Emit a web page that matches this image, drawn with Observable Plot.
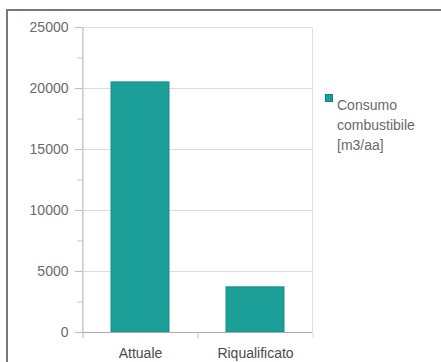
<!DOCTYPE html>
<html>
<head>
<meta charset="utf-8">
<script src="https://cdn.jsdelivr.net/npm/d3@7"></script>
<script src="https://cdn.jsdelivr.net/npm/@observablehq/plot@0.6"></script>
<style>
  html, body { margin: 0; padding: 0; background: #fff; }
  #wrap { position: relative; width: 441px; height: 362px; overflow: hidden; font-family: "Liberation Sans", Arial, sans-serif; }
  #border { position: absolute; left: 6px; top: 9px; width: 460px; height: 400px; border-left: 2px solid #777; border-top: 2px solid #777; box-sizing: border-box; }
  #chart { position: absolute; left: 0; top: 0; }
  #legend { position: absolute; left: 325px; top: 94px; color: #6a6a6a; font-size: 14px; line-height: 20px; }
  #legend .sw { position: absolute; left: 0; top: 0; width: 8px; height: 8px; background: #1b9f98; border: 1px solid #157f7a; box-sizing: border-box; }
  #legend .lbl { position: absolute; left: 12px; top: 0; white-space: nowrap; }
</style>
</head>
<body>
<div id="wrap">
  <div id="border"></div>
  <div id="chart"></div>
  <div id="legend"><div class="sw"></div><div class="lbl"></div></div>
</div>
<script>
// Data
const categories = ["Attuale", "Riqualificato"];
const values = [20500, 3700];
const legendLines = ["Consumo", "combustibile", "[m3/aa]"];
const yMajorTicks = [0, 5000, 10000, 15000, 20000, 25000];
const yMinorTicks = [2500, 7500, 12500, 17500, 22500];

const barColor = "#1b9f98";
const data = categories.map((c, i) => ({category: c, value: values[i]}));

const W = 441, H = 362, mL = 82, mR = 129, mT = 27, mB = 30;
const halfStep = (W - mL - mR) / categories.length / 2;

const chart = Plot.plot({
  width: W,
  height: H,
  marginLeft: mL,
  marginRight: mR,
  marginTop: mT,
  marginBottom: mB,
  style: {fontFamily: "'Liberation Sans', Arial, sans-serif", fontSize: "14px", color: "#666", background: "transparent"},
  x: {domain: categories, paddingInner: 0.5, paddingOuter: 0.25, label: null},
  y: {domain: [0, 25000], label: null},
  marks: [
    Plot.gridY(yMajorTicks, {stroke: "#dcdcdc", strokeOpacity: 1}),
    Plot.frame({stroke: "#e0e0e0"}),
    Plot.barY(data, {x: "category", y: "value", fill: barColor, stroke: "#178f89", strokeWidth: 1}),
    Plot.ruleY([0], {stroke: "#aaa"}),
    Plot.ruleX([categories[0]], {dx: -halfStep, y1: 0, y2: 25000, stroke: "#bbb"}),
    Plot.axisY(yMinorTicks, {tickSize: 5, tickFormat: () => "", stroke: "#c4c4c4"}),
    Plot.axisY(yMajorTicks, {tickSize: 7, tickPadding: 7, stroke: "#bbb", tickFormat: d => String(d), fill: "#6a6a6a"}),
    Plot.axisX(categories, {tickSize: 0, tickPadding: 16, fill: "#4a4a4a"}),
    Plot.axisX(categories, {tickSize: 6, dx: -halfStep, tickFormat: () => "", stroke: "#bbb"}),
    Plot.axisX([categories[categories.length - 1]], {tickSize: 6, dx: halfStep, tickFormat: () => "", stroke: "#ddd"})
  ]
});
document.getElementById("chart").appendChild(chart);

const lbl = document.querySelector("#legend .lbl");
lbl.innerHTML = legendLines.map(t => `<div>${t}</div>`).join("");
lbl.style.top = "1px";
</script>
</body>
</html>
